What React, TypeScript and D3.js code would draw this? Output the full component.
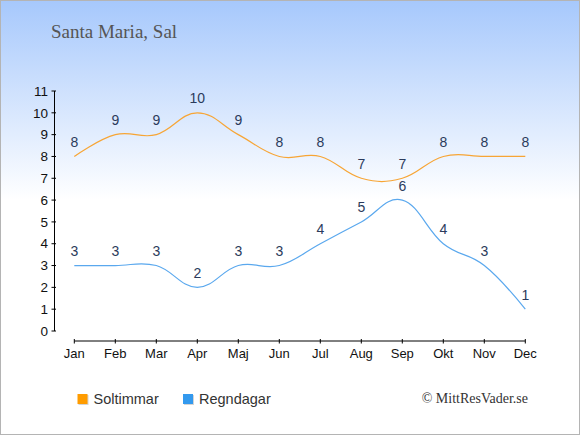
import React from "react";
import * as d3 from "d3";

const months = ["Jan", "Feb", "Mar", "Apr", "Maj", "Jun", "Jul", "Aug", "Sep", "Okt", "Nov", "Dec"];
const soltimmar = [8, 9, 9, 10, 9, 8, 8, 7, 7, 8, 8, 8];
const regndagar = [3, 3, 3, 2, 3, 3, 4, 5, 6, 4, 3, 1];
const yTicks = [0, 1, 2, 3, 4, 5, 6, 7, 8, 9, 10, 11];
const title = "Santa Maria, Sal";
const seriesNames = ["Soltimmar", "Regndagar"];

const W = 580;
const H = 435;

export default function App() {
  const x = d3.scalePoint<string>().domain(months).range([74.3, 525.3]);
  const y = d3.scaleLinear().domain([0, 11]).range([331, 91]);
  const line = d3
    .line<number>()
    .x((_, i) => x(months[i]) as number)
    .y((d) => y(d))
    .curve(d3.curveCardinal.tension(-0.2));

  const axisX = 54.5;
  const axisY = 341;
  const labelColor = "#2b3b5c";
  const font = "Arial, 'Liberation Sans', sans-serif";
  const serif = "'Liberation Serif', 'Times New Roman', serif";

  const series = [
    { name: seriesNames[0], data: soltimmar, line: "#f7a535", legend: "#ff9c00" },
    { name: seriesNames[1], data: regndagar, line: "#5aa8ee", legend: "#3399ee" },
  ];

  return (
    <div style={{ position: "fixed", left: 0, top: 0 }}>
      <svg width={W} height={H} style={{ display: "block" }}>
        <defs>
          <linearGradient id="bg" x1="0" y1="0" x2="0" y2={H} gradientUnits="userSpaceOnUse">
            <stop offset="0" stopColor="#a6c8fc" />
            <stop offset="0.46" stopColor="#ffffff" />
            <stop offset="1" stopColor="#ffffff" />
          </linearGradient>
        </defs>
        <rect x={0.5} y={0.5} width={W - 1} height={H - 1} fill="url(#bg)" stroke="#b4b4b4" strokeWidth={1} />

        <text x={51} y={38} fontFamily={serif} fontSize={19} fill="#555555">
          {title}
        </text>

        {/* Y axis */}
        <line x1={axisX} x2={axisX} y1={y(11)} y2={y(0)} stroke="#000" strokeWidth={1} />
        {yTicks.map((t) => (
          <g key={t}>
            <line x1={axisX - 3} x2={axisX + 1.5} y1={y(t)} y2={y(t)} stroke="#000" strokeWidth={1} />
            <text x={48} y={y(t) + 4.7} textAnchor="end" fontFamily={font} fontSize={13.5} fill="#111">
              {t}
            </text>
          </g>
        ))}

        {/* X axis */}
        <line x1={x(months[0])} x2={x(months[11])} y1={axisY} y2={axisY} stroke="#000" strokeWidth={1} />
        {months.map((m) => (
          <g key={m}>
            <line x1={x(m)} x2={x(m)} y1={axisY - 2} y2={axisY + 2.5} stroke="#000" strokeWidth={1} />
            <text x={x(m)} y={357.5} textAnchor="middle" fontFamily={font} fontSize={13} fill="#111">
              {m}
            </text>
          </g>
        ))}

        {/* Series */}
        {series.map((s) => (
          <g key={s.name}>
            <path d={line(s.data) || ""} fill="none" stroke={s.line} strokeWidth={1.2} />
            {s.data.map((v, i) => (
              <text
                key={i}
                x={x(months[i])}
                y={y(v) - 9.5}
                textAnchor="middle"
                fontFamily={font}
                fontSize={14}
                fill={labelColor}
              >
                {v}
              </text>
            ))}
          </g>
        ))}

        {/* Legend */}
        {series.map((s, i) => {
          const lx = i === 0 ? 77.5 : 183;
          return (
            <g key={s.name}>
              <rect x={lx + 1} y={395} width={10} height={10} fill="#d4d4d4" />
              <rect x={lx} y={394} width={10} height={10} fill={s.legend} />
              <text x={lx + 16} y={403.5} fontFamily={font} fontSize={14.5} fill="#333">
                {s.name}
              </text>
            </g>
          );
        })}

        <text x={528} y={403} textAnchor="end" fontFamily={serif} fontSize={14} fill="#333">
          © MittResVader.se
        </text>
      </svg>
    </div>
  );
}
